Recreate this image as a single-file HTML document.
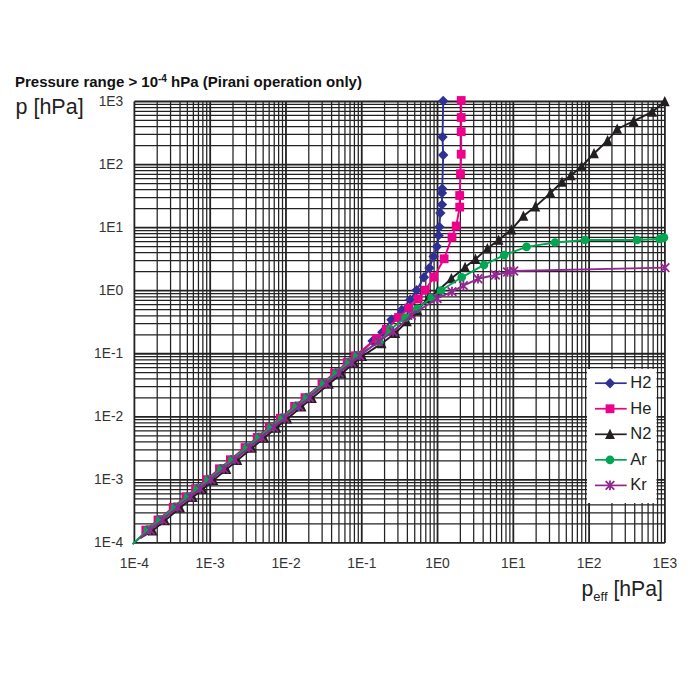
<!DOCTYPE html><html><head><meta charset="utf-8"><style>html,body{margin:0;padding:0;background:#fff;}svg{display:block;font-family:"Liberation Sans",sans-serif;}</style></head><body>
<svg width="700" height="700" viewBox="0 0 700 700">
<rect x="0" y="0" width="700" height="700" fill="#fff"/>
<g><line x1="157.21" y1="101.5" x2="157.21" y2="542.9" stroke="#222222" stroke-width="1.25"/><line x1="134.4" y1="523.92" x2="664.9" y2="523.92" stroke="#222222" stroke-width="1.25"/><line x1="170.56" y1="101.5" x2="170.56" y2="542.9" stroke="#222222" stroke-width="1.25"/><line x1="134.4" y1="512.81" x2="664.9" y2="512.81" stroke="#222222" stroke-width="1.25"/><line x1="180.03" y1="101.5" x2="180.03" y2="542.9" stroke="#222222" stroke-width="1.25"/><line x1="134.4" y1="504.94" x2="664.9" y2="504.94" stroke="#222222" stroke-width="1.25"/><line x1="187.37" y1="101.5" x2="187.37" y2="542.9" stroke="#222222" stroke-width="1.25"/><line x1="134.4" y1="498.82" x2="664.9" y2="498.82" stroke="#222222" stroke-width="1.25"/><line x1="193.37" y1="101.5" x2="193.37" y2="542.9" stroke="#222222" stroke-width="1.25"/><line x1="134.4" y1="493.83" x2="664.9" y2="493.83" stroke="#222222" stroke-width="1.25"/><line x1="198.45" y1="101.5" x2="198.45" y2="542.9" stroke="#222222" stroke-width="1.25"/><line x1="134.4" y1="489.61" x2="664.9" y2="489.61" stroke="#222222" stroke-width="1.25"/><line x1="202.84" y1="101.5" x2="202.84" y2="542.9" stroke="#222222" stroke-width="1.25"/><line x1="134.4" y1="485.95" x2="664.9" y2="485.95" stroke="#222222" stroke-width="1.25"/><line x1="206.72" y1="101.5" x2="206.72" y2="542.9" stroke="#222222" stroke-width="1.25"/><line x1="134.4" y1="482.73" x2="664.9" y2="482.73" stroke="#222222" stroke-width="1.25"/><line x1="233.00" y1="101.5" x2="233.00" y2="542.9" stroke="#222222" stroke-width="1.25"/><line x1="134.4" y1="460.86" x2="664.9" y2="460.86" stroke="#222222" stroke-width="1.25"/><line x1="246.34" y1="101.5" x2="246.34" y2="542.9" stroke="#222222" stroke-width="1.25"/><line x1="134.4" y1="449.76" x2="664.9" y2="449.76" stroke="#222222" stroke-width="1.25"/><line x1="255.81" y1="101.5" x2="255.81" y2="542.9" stroke="#222222" stroke-width="1.25"/><line x1="134.4" y1="441.88" x2="664.9" y2="441.88" stroke="#222222" stroke-width="1.25"/><line x1="263.16" y1="101.5" x2="263.16" y2="542.9" stroke="#222222" stroke-width="1.25"/><line x1="134.4" y1="435.77" x2="664.9" y2="435.77" stroke="#222222" stroke-width="1.25"/><line x1="269.16" y1="101.5" x2="269.16" y2="542.9" stroke="#222222" stroke-width="1.25"/><line x1="134.4" y1="430.77" x2="664.9" y2="430.77" stroke="#222222" stroke-width="1.25"/><line x1="274.23" y1="101.5" x2="274.23" y2="542.9" stroke="#222222" stroke-width="1.25"/><line x1="134.4" y1="426.55" x2="664.9" y2="426.55" stroke="#222222" stroke-width="1.25"/><line x1="278.63" y1="101.5" x2="278.63" y2="542.9" stroke="#222222" stroke-width="1.25"/><line x1="134.4" y1="422.90" x2="664.9" y2="422.90" stroke="#222222" stroke-width="1.25"/><line x1="282.50" y1="101.5" x2="282.50" y2="542.9" stroke="#222222" stroke-width="1.25"/><line x1="134.4" y1="419.67" x2="664.9" y2="419.67" stroke="#222222" stroke-width="1.25"/><line x1="308.79" y1="101.5" x2="308.79" y2="542.9" stroke="#222222" stroke-width="1.25"/><line x1="134.4" y1="397.80" x2="664.9" y2="397.80" stroke="#222222" stroke-width="1.25"/><line x1="322.13" y1="101.5" x2="322.13" y2="542.9" stroke="#222222" stroke-width="1.25"/><line x1="134.4" y1="386.70" x2="664.9" y2="386.70" stroke="#222222" stroke-width="1.25"/><line x1="331.60" y1="101.5" x2="331.60" y2="542.9" stroke="#222222" stroke-width="1.25"/><line x1="134.4" y1="378.82" x2="664.9" y2="378.82" stroke="#222222" stroke-width="1.25"/><line x1="338.94" y1="101.5" x2="338.94" y2="542.9" stroke="#222222" stroke-width="1.25"/><line x1="134.4" y1="372.71" x2="664.9" y2="372.71" stroke="#222222" stroke-width="1.25"/><line x1="344.94" y1="101.5" x2="344.94" y2="542.9" stroke="#222222" stroke-width="1.25"/><line x1="134.4" y1="367.72" x2="664.9" y2="367.72" stroke="#222222" stroke-width="1.25"/><line x1="350.02" y1="101.5" x2="350.02" y2="542.9" stroke="#222222" stroke-width="1.25"/><line x1="134.4" y1="363.50" x2="664.9" y2="363.50" stroke="#222222" stroke-width="1.25"/><line x1="354.41" y1="101.5" x2="354.41" y2="542.9" stroke="#222222" stroke-width="1.25"/><line x1="134.4" y1="359.84" x2="664.9" y2="359.84" stroke="#222222" stroke-width="1.25"/><line x1="358.29" y1="101.5" x2="358.29" y2="542.9" stroke="#222222" stroke-width="1.25"/><line x1="134.4" y1="356.61" x2="664.9" y2="356.61" stroke="#222222" stroke-width="1.25"/><line x1="384.57" y1="101.5" x2="384.57" y2="542.9" stroke="#222222" stroke-width="1.25"/><line x1="134.4" y1="334.75" x2="664.9" y2="334.75" stroke="#222222" stroke-width="1.25"/><line x1="397.92" y1="101.5" x2="397.92" y2="542.9" stroke="#222222" stroke-width="1.25"/><line x1="134.4" y1="323.64" x2="664.9" y2="323.64" stroke="#222222" stroke-width="1.25"/><line x1="407.38" y1="101.5" x2="407.38" y2="542.9" stroke="#222222" stroke-width="1.25"/><line x1="134.4" y1="315.76" x2="664.9" y2="315.76" stroke="#222222" stroke-width="1.25"/><line x1="414.73" y1="101.5" x2="414.73" y2="542.9" stroke="#222222" stroke-width="1.25"/><line x1="134.4" y1="309.65" x2="664.9" y2="309.65" stroke="#222222" stroke-width="1.25"/><line x1="420.73" y1="101.5" x2="420.73" y2="542.9" stroke="#222222" stroke-width="1.25"/><line x1="134.4" y1="304.66" x2="664.9" y2="304.66" stroke="#222222" stroke-width="1.25"/><line x1="425.80" y1="101.5" x2="425.80" y2="542.9" stroke="#222222" stroke-width="1.25"/><line x1="134.4" y1="300.44" x2="664.9" y2="300.44" stroke="#222222" stroke-width="1.25"/><line x1="430.20" y1="101.5" x2="430.20" y2="542.9" stroke="#222222" stroke-width="1.25"/><line x1="134.4" y1="296.78" x2="664.9" y2="296.78" stroke="#222222" stroke-width="1.25"/><line x1="434.08" y1="101.5" x2="434.08" y2="542.9" stroke="#222222" stroke-width="1.25"/><line x1="134.4" y1="293.56" x2="664.9" y2="293.56" stroke="#222222" stroke-width="1.25"/><line x1="460.36" y1="101.5" x2="460.36" y2="542.9" stroke="#222222" stroke-width="1.25"/><line x1="134.4" y1="271.69" x2="664.9" y2="271.69" stroke="#222222" stroke-width="1.25"/><line x1="473.70" y1="101.5" x2="473.70" y2="542.9" stroke="#222222" stroke-width="1.25"/><line x1="134.4" y1="260.59" x2="664.9" y2="260.59" stroke="#222222" stroke-width="1.25"/><line x1="483.17" y1="101.5" x2="483.17" y2="542.9" stroke="#222222" stroke-width="1.25"/><line x1="134.4" y1="252.71" x2="664.9" y2="252.71" stroke="#222222" stroke-width="1.25"/><line x1="490.51" y1="101.5" x2="490.51" y2="542.9" stroke="#222222" stroke-width="1.25"/><line x1="134.4" y1="246.60" x2="664.9" y2="246.60" stroke="#222222" stroke-width="1.25"/><line x1="496.52" y1="101.5" x2="496.52" y2="542.9" stroke="#222222" stroke-width="1.25"/><line x1="134.4" y1="241.60" x2="664.9" y2="241.60" stroke="#222222" stroke-width="1.25"/><line x1="501.59" y1="101.5" x2="501.59" y2="542.9" stroke="#222222" stroke-width="1.25"/><line x1="134.4" y1="237.38" x2="664.9" y2="237.38" stroke="#222222" stroke-width="1.25"/><line x1="505.98" y1="101.5" x2="505.98" y2="542.9" stroke="#222222" stroke-width="1.25"/><line x1="134.4" y1="233.73" x2="664.9" y2="233.73" stroke="#222222" stroke-width="1.25"/><line x1="509.86" y1="101.5" x2="509.86" y2="542.9" stroke="#222222" stroke-width="1.25"/><line x1="134.4" y1="230.50" x2="664.9" y2="230.50" stroke="#222222" stroke-width="1.25"/><line x1="536.14" y1="101.5" x2="536.14" y2="542.9" stroke="#222222" stroke-width="1.25"/><line x1="134.4" y1="208.63" x2="664.9" y2="208.63" stroke="#222222" stroke-width="1.25"/><line x1="549.49" y1="101.5" x2="549.49" y2="542.9" stroke="#222222" stroke-width="1.25"/><line x1="134.4" y1="197.53" x2="664.9" y2="197.53" stroke="#222222" stroke-width="1.25"/><line x1="558.96" y1="101.5" x2="558.96" y2="542.9" stroke="#222222" stroke-width="1.25"/><line x1="134.4" y1="189.65" x2="664.9" y2="189.65" stroke="#222222" stroke-width="1.25"/><line x1="566.30" y1="101.5" x2="566.30" y2="542.9" stroke="#222222" stroke-width="1.25"/><line x1="134.4" y1="183.54" x2="664.9" y2="183.54" stroke="#222222" stroke-width="1.25"/><line x1="572.30" y1="101.5" x2="572.30" y2="542.9" stroke="#222222" stroke-width="1.25"/><line x1="134.4" y1="178.55" x2="664.9" y2="178.55" stroke="#222222" stroke-width="1.25"/><line x1="577.37" y1="101.5" x2="577.37" y2="542.9" stroke="#222222" stroke-width="1.25"/><line x1="134.4" y1="174.32" x2="664.9" y2="174.32" stroke="#222222" stroke-width="1.25"/><line x1="581.77" y1="101.5" x2="581.77" y2="542.9" stroke="#222222" stroke-width="1.25"/><line x1="134.4" y1="170.67" x2="664.9" y2="170.67" stroke="#222222" stroke-width="1.25"/><line x1="585.65" y1="101.5" x2="585.65" y2="542.9" stroke="#222222" stroke-width="1.25"/><line x1="134.4" y1="167.44" x2="664.9" y2="167.44" stroke="#222222" stroke-width="1.25"/><line x1="611.93" y1="101.5" x2="611.93" y2="542.9" stroke="#222222" stroke-width="1.25"/><line x1="134.4" y1="145.58" x2="664.9" y2="145.58" stroke="#222222" stroke-width="1.25"/><line x1="625.27" y1="101.5" x2="625.27" y2="542.9" stroke="#222222" stroke-width="1.25"/><line x1="134.4" y1="134.47" x2="664.9" y2="134.47" stroke="#222222" stroke-width="1.25"/><line x1="634.74" y1="101.5" x2="634.74" y2="542.9" stroke="#222222" stroke-width="1.25"/><line x1="134.4" y1="126.59" x2="664.9" y2="126.59" stroke="#222222" stroke-width="1.25"/><line x1="642.09" y1="101.5" x2="642.09" y2="542.9" stroke="#222222" stroke-width="1.25"/><line x1="134.4" y1="120.48" x2="664.9" y2="120.48" stroke="#222222" stroke-width="1.25"/><line x1="648.09" y1="101.5" x2="648.09" y2="542.9" stroke="#222222" stroke-width="1.25"/><line x1="134.4" y1="115.49" x2="664.9" y2="115.49" stroke="#222222" stroke-width="1.25"/><line x1="653.16" y1="101.5" x2="653.16" y2="542.9" stroke="#222222" stroke-width="1.25"/><line x1="134.4" y1="111.27" x2="664.9" y2="111.27" stroke="#222222" stroke-width="1.25"/><line x1="657.56" y1="101.5" x2="657.56" y2="542.9" stroke="#222222" stroke-width="1.25"/><line x1="134.4" y1="107.61" x2="664.9" y2="107.61" stroke="#222222" stroke-width="1.25"/><line x1="661.43" y1="101.5" x2="661.43" y2="542.9" stroke="#222222" stroke-width="1.25"/><line x1="134.4" y1="104.39" x2="664.9" y2="104.39" stroke="#222222" stroke-width="1.25"/><line x1="134.40" y1="101.5" x2="134.40" y2="542.9" stroke="#222222" stroke-width="1.8"/><line x1="134.4" y1="542.90" x2="664.9" y2="542.90" stroke="#222222" stroke-width="1.8"/><line x1="210.19" y1="101.5" x2="210.19" y2="542.9" stroke="#222222" stroke-width="1.8"/><line x1="134.4" y1="479.84" x2="664.9" y2="479.84" stroke="#222222" stroke-width="1.8"/><line x1="285.97" y1="101.5" x2="285.97" y2="542.9" stroke="#222222" stroke-width="1.8"/><line x1="134.4" y1="416.79" x2="664.9" y2="416.79" stroke="#222222" stroke-width="1.8"/><line x1="361.76" y1="101.5" x2="361.76" y2="542.9" stroke="#222222" stroke-width="1.8"/><line x1="134.4" y1="353.73" x2="664.9" y2="353.73" stroke="#222222" stroke-width="1.8"/><line x1="437.54" y1="101.5" x2="437.54" y2="542.9" stroke="#222222" stroke-width="1.8"/><line x1="134.4" y1="290.67" x2="664.9" y2="290.67" stroke="#222222" stroke-width="1.8"/><line x1="513.33" y1="101.5" x2="513.33" y2="542.9" stroke="#222222" stroke-width="1.8"/><line x1="134.4" y1="227.61" x2="664.9" y2="227.61" stroke="#222222" stroke-width="1.8"/><line x1="589.11" y1="101.5" x2="589.11" y2="542.9" stroke="#222222" stroke-width="1.8"/><line x1="134.4" y1="164.56" x2="664.9" y2="164.56" stroke="#222222" stroke-width="1.8"/><line x1="664.90" y1="101.5" x2="664.90" y2="542.9" stroke="#222222" stroke-width="1.8"/><line x1="134.4" y1="101.50" x2="664.9" y2="101.50" stroke="#222222" stroke-width="1.8"/></g>
<path d="M132.60 544.10L148.30 530.59L160.50 520.44L175.70 507.79L188.40 497.22L198.10 489.15L208.90 480.16L221.99 469.28L232.89 460.21L247.49 448.06L259.69 437.91L271.79 427.84L282.79 418.69L297.07 406.80L307.47 398.15L324.47 384.00L337.07 373.52L349.67 363.04L357.77 356.30L372.60 340.90L382.30 332.30L391.40 319.70L401.70 310.00L410.30 299.80L416.60 290.20L424.00 277.30L429.40 268.00L433.60 256.50L437.00 246.60L438.60 235.40L439.40 226.90L440.30 213.00L442.00 204.60L442.00 193.00L442.20 188.70L443.20 155.00L442.50 137.00L443.20 101.00" stroke="#2e3192" stroke-width="1.9" fill="none" stroke-linejoin="round"/>
<g><path d="M148.30 525.39L153.50 530.59L148.30 535.79L143.10 530.59Z" fill="#2e3192"/><path d="M160.50 515.24L165.70 520.44L160.50 525.64L155.30 520.44Z" fill="#2e3192"/><path d="M175.70 502.59L180.90 507.79L175.70 512.99L170.50 507.79Z" fill="#2e3192"/><path d="M188.40 492.02L193.60 497.22L188.40 502.42L183.20 497.22Z" fill="#2e3192"/><path d="M198.10 483.95L203.30 489.15L198.10 494.35L192.90 489.15Z" fill="#2e3192"/><path d="M208.90 474.96L214.10 480.16L208.90 485.36L203.70 480.16Z" fill="#2e3192"/><path d="M221.99 464.08L227.19 469.28L221.99 474.48L216.79 469.28Z" fill="#2e3192"/><path d="M232.89 455.01L238.09 460.21L232.89 465.41L227.69 460.21Z" fill="#2e3192"/><path d="M247.49 442.86L252.69 448.06L247.49 453.26L242.29 448.06Z" fill="#2e3192"/><path d="M259.69 432.71L264.89 437.91L259.69 443.11L254.49 437.91Z" fill="#2e3192"/><path d="M271.79 422.64L276.99 427.84L271.79 433.04L266.59 427.84Z" fill="#2e3192"/><path d="M282.79 413.49L287.99 418.69L282.79 423.89L277.59 418.69Z" fill="#2e3192"/><path d="M297.07 401.60L302.27 406.80L297.07 412.00L291.87 406.80Z" fill="#2e3192"/><path d="M307.47 392.95L312.67 398.15L307.47 403.35L302.27 398.15Z" fill="#2e3192"/><path d="M324.47 378.80L329.67 384.00L324.47 389.20L319.27 384.00Z" fill="#2e3192"/><path d="M337.07 368.32L342.27 373.52L337.07 378.72L331.87 373.52Z" fill="#2e3192"/><path d="M349.67 357.84L354.87 363.04L349.67 368.24L344.47 363.04Z" fill="#2e3192"/><path d="M357.77 351.10L362.97 356.30L357.77 361.50L352.57 356.30Z" fill="#2e3192"/><path d="M372.60 335.70L377.80 340.90L372.60 346.10L367.40 340.90Z" fill="#2e3192"/><path d="M382.30 327.10L387.50 332.30L382.30 337.50L377.10 332.30Z" fill="#2e3192"/><path d="M391.40 314.50L396.60 319.70L391.40 324.90L386.20 319.70Z" fill="#2e3192"/><path d="M401.70 304.80L406.90 310.00L401.70 315.20L396.50 310.00Z" fill="#2e3192"/><path d="M410.30 294.60L415.50 299.80L410.30 305.00L405.10 299.80Z" fill="#2e3192"/><path d="M416.60 285.00L421.80 290.20L416.60 295.40L411.40 290.20Z" fill="#2e3192"/><path d="M424.00 272.10L429.20 277.30L424.00 282.50L418.80 277.30Z" fill="#2e3192"/><path d="M429.40 262.80L434.60 268.00L429.40 273.20L424.20 268.00Z" fill="#2e3192"/><path d="M433.60 251.30L438.80 256.50L433.60 261.70L428.40 256.50Z" fill="#2e3192"/><path d="M437.00 241.40L442.20 246.60L437.00 251.80L431.80 246.60Z" fill="#2e3192"/><path d="M438.60 230.20L443.80 235.40L438.60 240.60L433.40 235.40Z" fill="#2e3192"/><path d="M439.40 221.70L444.60 226.90L439.40 232.10L434.20 226.90Z" fill="#2e3192"/><path d="M440.30 207.80L445.50 213.00L440.30 218.20L435.10 213.00Z" fill="#2e3192"/><path d="M442.00 199.40L447.20 204.60L442.00 209.80L436.80 204.60Z" fill="#2e3192"/><path d="M442.00 187.80L447.20 193.00L442.00 198.20L436.80 193.00Z" fill="#2e3192"/><path d="M442.20 183.50L447.40 188.70L442.20 193.90L437.00 188.70Z" fill="#2e3192"/><path d="M443.20 149.80L448.40 155.00L443.20 160.20L438.00 155.00Z" fill="#2e3192"/><path d="M442.50 131.80L447.70 137.00L442.50 142.20L437.30 137.00Z" fill="#2e3192"/><path d="M443.20 95.80L448.40 101.00L443.20 106.20L438.00 101.00Z" fill="#2e3192"/></g>
<path d="M140.40 537.90L145.80 530.09L158.00 519.94L173.20 507.29L185.90 496.72L195.60 488.65L206.40 479.66L219.49 468.78L230.39 459.71L244.99 447.56L257.19 437.41L269.29 427.34L280.29 418.19L294.57 406.30L304.97 397.65L321.97 383.50L334.57 373.02L347.17 362.54L355.27 355.80L376.60 338.60L386.30 329.40L398.50 317.50L408.80 308.00L418.20 299.00L425.20 290.20L434.00 277.00L444.10 258.80L452.00 237.10L456.20 226.00L459.70 207.10L459.70 195.50L460.50 173.70L461.20 154.20L461.20 131.70L461.20 117.50L461.20 100.50" stroke="#ec008c" stroke-width="1.9" fill="none" stroke-linejoin="round"/>
<g><rect x="141.40" y="525.69" width="8.8" height="8.8" fill="#ec008c"/><rect x="153.60" y="515.54" width="8.8" height="8.8" fill="#ec008c"/><rect x="168.80" y="502.89" width="8.8" height="8.8" fill="#ec008c"/><rect x="181.50" y="492.32" width="8.8" height="8.8" fill="#ec008c"/><rect x="191.20" y="484.25" width="8.8" height="8.8" fill="#ec008c"/><rect x="202.00" y="475.26" width="8.8" height="8.8" fill="#ec008c"/><rect x="215.09" y="464.38" width="8.8" height="8.8" fill="#ec008c"/><rect x="225.99" y="455.31" width="8.8" height="8.8" fill="#ec008c"/><rect x="240.59" y="443.16" width="8.8" height="8.8" fill="#ec008c"/><rect x="252.79" y="433.01" width="8.8" height="8.8" fill="#ec008c"/><rect x="264.89" y="422.94" width="8.8" height="8.8" fill="#ec008c"/><rect x="275.89" y="413.79" width="8.8" height="8.8" fill="#ec008c"/><rect x="290.17" y="401.90" width="8.8" height="8.8" fill="#ec008c"/><rect x="300.57" y="393.25" width="8.8" height="8.8" fill="#ec008c"/><rect x="317.57" y="379.10" width="8.8" height="8.8" fill="#ec008c"/><rect x="330.17" y="368.62" width="8.8" height="8.8" fill="#ec008c"/><rect x="342.77" y="358.14" width="8.8" height="8.8" fill="#ec008c"/><rect x="350.87" y="351.40" width="8.8" height="8.8" fill="#ec008c"/><rect x="372.20" y="334.20" width="8.8" height="8.8" fill="#ec008c"/><rect x="381.90" y="325.00" width="8.8" height="8.8" fill="#ec008c"/><rect x="394.10" y="313.10" width="8.8" height="8.8" fill="#ec008c"/><rect x="404.40" y="303.60" width="8.8" height="8.8" fill="#ec008c"/><rect x="413.80" y="294.60" width="8.8" height="8.8" fill="#ec008c"/><rect x="420.80" y="285.80" width="8.8" height="8.8" fill="#ec008c"/><rect x="429.60" y="272.60" width="8.8" height="8.8" fill="#ec008c"/><rect x="439.70" y="254.40" width="8.8" height="8.8" fill="#ec008c"/><rect x="447.60" y="232.70" width="8.8" height="8.8" fill="#ec008c"/><rect x="451.80" y="221.60" width="8.8" height="8.8" fill="#ec008c"/><rect x="455.30" y="202.70" width="8.8" height="8.8" fill="#ec008c"/><rect x="455.30" y="191.10" width="8.8" height="8.8" fill="#ec008c"/><rect x="456.10" y="169.30" width="8.8" height="8.8" fill="#ec008c"/><rect x="456.80" y="149.80" width="8.8" height="8.8" fill="#ec008c"/><rect x="456.80" y="127.30" width="8.8" height="8.8" fill="#ec008c"/><rect x="456.80" y="113.10" width="8.8" height="8.8" fill="#ec008c"/><rect x="456.80" y="96.10" width="8.8" height="8.8" fill="#ec008c"/></g>
<path d="M140.40 537.90L152.80 530.59L165.00 520.44L180.20 507.79L192.90 497.22L202.60 489.15L213.40 480.16L226.49 469.28L237.39 460.21L251.99 448.06L264.19 437.91L276.29 427.84L287.29 418.69L301.57 406.80L311.97 398.15L328.97 384.00L341.57 373.52L354.17 363.04L362.27 356.30L381.70 343.40L395.40 333.10L406.90 321.50L417.50 310.70L428.00 298.40L437.70 291.00L451.40 278.50L465.10 267.20L475.50 259.10L487.40 248.60L498.60 240.00L511.40 229.70L523.40 216.00L535.40 206.60L550.50 193.00L562.00 182.00L570.80 175.40L581.60 166.50L594.00 153.50L607.60 140.50L617.20 129.00L633.60 121.20L652.10 111.90L664.80 101.50" stroke="#231f20" stroke-width="1.9" fill="none" stroke-linejoin="round"/>
<g><path d="M152.80 525.09L157.70 535.39L147.90 535.39Z" fill="#231f20"/><path d="M165.00 514.94L169.90 525.24L160.10 525.24Z" fill="#231f20"/><path d="M180.20 502.29L185.10 512.59L175.30 512.59Z" fill="#231f20"/><path d="M192.90 491.72L197.80 502.02L188.00 502.02Z" fill="#231f20"/><path d="M202.60 483.65L207.50 493.95L197.70 493.95Z" fill="#231f20"/><path d="M213.40 474.66L218.30 484.96L208.50 484.96Z" fill="#231f20"/><path d="M226.49 463.78L231.39 474.08L221.59 474.08Z" fill="#231f20"/><path d="M237.39 454.71L242.29 465.01L232.49 465.01Z" fill="#231f20"/><path d="M251.99 442.56L256.89 452.86L247.09 452.86Z" fill="#231f20"/><path d="M264.19 432.41L269.09 442.71L259.29 442.71Z" fill="#231f20"/><path d="M276.29 422.34L281.19 432.64L271.39 432.64Z" fill="#231f20"/><path d="M287.29 413.19L292.19 423.49L282.39 423.49Z" fill="#231f20"/><path d="M301.57 401.30L306.47 411.60L296.67 411.60Z" fill="#231f20"/><path d="M311.97 392.65L316.87 402.95L307.07 402.95Z" fill="#231f20"/><path d="M328.97 378.50L333.87 388.80L324.07 388.80Z" fill="#231f20"/><path d="M341.57 368.02L346.47 378.32L336.67 378.32Z" fill="#231f20"/><path d="M354.17 357.54L359.07 367.84L349.27 367.84Z" fill="#231f20"/><path d="M362.27 350.80L367.17 361.10L357.37 361.10Z" fill="#231f20"/><path d="M381.70 337.90L386.60 348.20L376.80 348.20Z" fill="#231f20"/><path d="M395.40 327.60L400.30 337.90L390.50 337.90Z" fill="#231f20"/><path d="M406.90 316.00L411.80 326.30L402.00 326.30Z" fill="#231f20"/><path d="M417.50 305.20L422.40 315.50L412.60 315.50Z" fill="#231f20"/><path d="M428.00 292.90L432.90 303.20L423.10 303.20Z" fill="#231f20"/><path d="M437.70 285.50L442.60 295.80L432.80 295.80Z" fill="#231f20"/><path d="M451.40 273.00L456.30 283.30L446.50 283.30Z" fill="#231f20"/><path d="M465.10 261.70L470.00 272.00L460.20 272.00Z" fill="#231f20"/><path d="M475.50 253.60L480.40 263.90L470.60 263.90Z" fill="#231f20"/><path d="M487.40 243.10L492.30 253.40L482.50 253.40Z" fill="#231f20"/><path d="M498.60 234.50L503.50 244.80L493.70 244.80Z" fill="#231f20"/><path d="M511.40 224.20L516.30 234.50L506.50 234.50Z" fill="#231f20"/><path d="M523.40 210.50L528.30 220.80L518.50 220.80Z" fill="#231f20"/><path d="M535.40 201.10L540.30 211.40L530.50 211.40Z" fill="#231f20"/><path d="M550.50 187.50L555.40 197.80L545.60 197.80Z" fill="#231f20"/><path d="M562.00 176.50L566.90 186.80L557.10 186.80Z" fill="#231f20"/><path d="M570.80 169.90L575.70 180.20L565.90 180.20Z" fill="#231f20"/><path d="M581.60 161.00L586.50 171.30L576.70 171.30Z" fill="#231f20"/><path d="M594.00 148.00L598.90 158.30L589.10 158.30Z" fill="#231f20"/><path d="M607.60 135.00L612.50 145.30L602.70 145.30Z" fill="#231f20"/><path d="M617.20 123.50L622.10 133.80L612.30 133.80Z" fill="#231f20"/><path d="M633.60 115.70L638.50 126.00L628.70 126.00Z" fill="#231f20"/><path d="M652.10 106.40L657.00 116.70L647.20 116.70Z" fill="#231f20"/><path d="M664.80 96.00L669.70 106.30L659.90 106.30Z" fill="#231f20"/></g>
<path d="M132.60 544.10L147.80 529.59L160.00 519.44L175.20 506.79L187.90 496.22L197.60 488.15L208.40 479.16L221.49 468.28L232.39 459.21L246.99 447.06L259.19 436.91L271.29 426.84L282.29 417.69L296.57 405.80L306.97 397.15L323.97 383.00L336.57 372.52L349.17 362.04L357.27 355.30L379.40 342.00L390.30 329.40L405.40 317.60L417.10 308.80L431.60 297.50L441.10 290.50L461.70 277.30L484.00 264.90L504.20 255.10L526.50 246.90L555.00 242.50L585.00 240.00L637.00 240.00L659.60 239.00L664.00 237.60" stroke="#00a651" stroke-width="1.9" fill="none" stroke-linejoin="round"/>
<g><circle cx="147.80" cy="529.59" r="4.3" fill="#00a651"/><circle cx="160.00" cy="519.44" r="4.3" fill="#00a651"/><circle cx="175.20" cy="506.79" r="4.3" fill="#00a651"/><circle cx="187.90" cy="496.22" r="4.3" fill="#00a651"/><circle cx="197.60" cy="488.15" r="4.3" fill="#00a651"/><circle cx="208.40" cy="479.16" r="4.3" fill="#00a651"/><circle cx="221.49" cy="468.28" r="4.3" fill="#00a651"/><circle cx="232.39" cy="459.21" r="4.3" fill="#00a651"/><circle cx="246.99" cy="447.06" r="4.3" fill="#00a651"/><circle cx="259.19" cy="436.91" r="4.3" fill="#00a651"/><circle cx="271.29" cy="426.84" r="4.3" fill="#00a651"/><circle cx="282.29" cy="417.69" r="4.3" fill="#00a651"/><circle cx="296.57" cy="405.80" r="4.3" fill="#00a651"/><circle cx="306.97" cy="397.15" r="4.3" fill="#00a651"/><circle cx="323.97" cy="383.00" r="4.3" fill="#00a651"/><circle cx="336.57" cy="372.52" r="4.3" fill="#00a651"/><circle cx="349.17" cy="362.04" r="4.3" fill="#00a651"/><circle cx="357.27" cy="355.30" r="4.3" fill="#00a651"/><circle cx="379.40" cy="342.00" r="4.3" fill="#00a651"/><circle cx="390.30" cy="329.40" r="4.3" fill="#00a651"/><circle cx="405.40" cy="317.60" r="4.3" fill="#00a651"/><circle cx="417.10" cy="308.80" r="4.3" fill="#00a651"/><circle cx="431.60" cy="297.50" r="4.3" fill="#00a651"/><circle cx="441.10" cy="290.50" r="4.3" fill="#00a651"/><circle cx="461.70" cy="277.30" r="4.3" fill="#00a651"/><circle cx="484.00" cy="264.90" r="4.3" fill="#00a651"/><circle cx="504.20" cy="255.10" r="4.3" fill="#00a651"/><circle cx="526.50" cy="246.90" r="4.3" fill="#00a651"/><circle cx="555.00" cy="242.50" r="4.3" fill="#00a651"/><circle cx="585.00" cy="240.00" r="4.3" fill="#00a651"/><circle cx="637.00" cy="240.00" r="4.3" fill="#00a651"/><circle cx="659.60" cy="239.00" r="4.3" fill="#00a651"/><circle cx="664.00" cy="237.60" r="4.3" fill="#00a651"/></g>
<path d="M140.40 537.90L150.30 530.09L162.50 519.94L177.70 507.29L190.40 496.72L200.10 488.65L210.90 479.66L223.99 468.78L234.89 459.71L249.49 447.56L261.69 437.41L273.79 427.34L284.79 418.19L299.07 406.30L309.47 397.65L326.47 383.50L339.07 373.02L351.67 362.54L359.77 355.80L378.50 341.50L393.10 331.70L411.40 315.30L437.10 298.50L452.00 291.60L463.40 285.60L478.00 278.80L495.40 275.00L507.50 272.00L513.70 271.00L665.00 267.60" stroke="#92278f" stroke-width="1.9" fill="none" stroke-linejoin="round"/>
<g><path d="M146.00 525.79L154.60 534.39M154.60 525.79L146.00 534.39M150.30 525.29L150.30 534.89" stroke="#92278f" stroke-width="1.8" fill="none"/><path d="M158.20 515.64L166.80 524.24M166.80 515.64L158.20 524.24M162.50 515.14L162.50 524.74" stroke="#92278f" stroke-width="1.8" fill="none"/><path d="M173.40 502.99L182.00 511.59M182.00 502.99L173.40 511.59M177.70 502.49L177.70 512.09" stroke="#92278f" stroke-width="1.8" fill="none"/><path d="M186.10 492.42L194.70 501.02M194.70 492.42L186.10 501.02M190.40 491.92L190.40 501.52" stroke="#92278f" stroke-width="1.8" fill="none"/><path d="M195.80 484.35L204.40 492.95M204.40 484.35L195.80 492.95M200.10 483.85L200.10 493.45" stroke="#92278f" stroke-width="1.8" fill="none"/><path d="M206.60 475.36L215.20 483.96M215.20 475.36L206.60 483.96M210.90 474.86L210.90 484.46" stroke="#92278f" stroke-width="1.8" fill="none"/><path d="M219.69 464.48L228.29 473.08M228.29 464.48L219.69 473.08M223.99 463.98L223.99 473.58" stroke="#92278f" stroke-width="1.8" fill="none"/><path d="M230.59 455.41L239.19 464.01M239.19 455.41L230.59 464.01M234.89 454.91L234.89 464.51" stroke="#92278f" stroke-width="1.8" fill="none"/><path d="M245.19 443.26L253.79 451.86M253.79 443.26L245.19 451.86M249.49 442.76L249.49 452.36" stroke="#92278f" stroke-width="1.8" fill="none"/><path d="M257.39 433.11L265.99 441.71M265.99 433.11L257.39 441.71M261.69 432.61L261.69 442.21" stroke="#92278f" stroke-width="1.8" fill="none"/><path d="M269.49 423.04L278.09 431.64M278.09 423.04L269.49 431.64M273.79 422.54L273.79 432.14" stroke="#92278f" stroke-width="1.8" fill="none"/><path d="M280.49 413.89L289.09 422.49M289.09 413.89L280.49 422.49M284.79 413.39L284.79 422.99" stroke="#92278f" stroke-width="1.8" fill="none"/><path d="M294.77 402.00L303.37 410.60M303.37 402.00L294.77 410.60M299.07 401.50L299.07 411.10" stroke="#92278f" stroke-width="1.8" fill="none"/><path d="M305.17 393.35L313.77 401.95M313.77 393.35L305.17 401.95M309.47 392.85L309.47 402.45" stroke="#92278f" stroke-width="1.8" fill="none"/><path d="M322.17 379.20L330.77 387.80M330.77 379.20L322.17 387.80M326.47 378.70L326.47 388.30" stroke="#92278f" stroke-width="1.8" fill="none"/><path d="M334.77 368.72L343.37 377.32M343.37 368.72L334.77 377.32M339.07 368.22L339.07 377.82" stroke="#92278f" stroke-width="1.8" fill="none"/><path d="M347.37 358.24L355.97 366.84M355.97 358.24L347.37 366.84M351.67 357.74L351.67 367.34" stroke="#92278f" stroke-width="1.8" fill="none"/><path d="M355.47 351.50L364.07 360.10M364.07 351.50L355.47 360.10M359.77 351.00L359.77 360.60" stroke="#92278f" stroke-width="1.8" fill="none"/><path d="M374.20 337.20L382.80 345.80M382.80 337.20L374.20 345.80M378.50 336.70L378.50 346.30" stroke="#92278f" stroke-width="1.8" fill="none"/><path d="M388.80 327.40L397.40 336.00M397.40 327.40L388.80 336.00M393.10 326.90L393.10 336.50" stroke="#92278f" stroke-width="1.8" fill="none"/><path d="M407.10 311.00L415.70 319.60M415.70 311.00L407.10 319.60M411.40 310.50L411.40 320.10" stroke="#92278f" stroke-width="1.8" fill="none"/><path d="M432.80 294.20L441.40 302.80M441.40 294.20L432.80 302.80M437.10 293.70L437.10 303.30" stroke="#92278f" stroke-width="1.8" fill="none"/><path d="M447.70 287.30L456.30 295.90M456.30 287.30L447.70 295.90M452.00 286.80L452.00 296.40" stroke="#92278f" stroke-width="1.8" fill="none"/><path d="M459.10 281.30L467.70 289.90M467.70 281.30L459.10 289.90M463.40 280.80L463.40 290.40" stroke="#92278f" stroke-width="1.8" fill="none"/><path d="M473.70 274.50L482.30 283.10M482.30 274.50L473.70 283.10M478.00 274.00L478.00 283.60" stroke="#92278f" stroke-width="1.8" fill="none"/><path d="M491.10 270.70L499.70 279.30M499.70 270.70L491.10 279.30M495.40 270.20L495.40 279.80" stroke="#92278f" stroke-width="1.8" fill="none"/><path d="M503.20 267.70L511.80 276.30M511.80 267.70L503.20 276.30M507.50 267.20L507.50 276.80" stroke="#92278f" stroke-width="1.8" fill="none"/><path d="M509.40 266.70L518.00 275.30M518.00 266.70L509.40 275.30M513.70 266.20L513.70 275.80" stroke="#92278f" stroke-width="1.8" fill="none"/><path d="M660.70 263.30L669.30 271.90M669.30 263.30L660.70 271.90M665.00 262.80L665.00 272.40" stroke="#92278f" stroke-width="1.8" fill="none"/></g>
<rect x="587" y="369" width="69.5" height="134" fill="#fff"/>
<line x1="595" y1="383.2" x2="626.7" y2="383.2" stroke="#2e3192" stroke-width="1.7"/>
<path d="M610.00 378.00L615.20 383.20L610.00 388.40L604.80 383.20Z" fill="#2e3192"/>
<text x="630.3" y="388.1" font-size="16.5" fill="#231f20">H2</text>
<line x1="595" y1="408.75" x2="626.7" y2="408.75" stroke="#ec008c" stroke-width="1.7"/>
<rect x="605.60" y="404.35" width="8.8" height="8.8" fill="#ec008c"/>
<text x="630.3" y="413.6" font-size="16.5" fill="#231f20">He</text>
<line x1="595" y1="434.3" x2="626.7" y2="434.3" stroke="#231f20" stroke-width="1.7"/>
<path d="M610.00 428.80L614.90 439.10L605.10 439.10Z" fill="#231f20"/>
<text x="630.3" y="439.2" font-size="16.5" fill="#231f20">N2</text>
<line x1="595" y1="459.85" x2="626.7" y2="459.85" stroke="#00a651" stroke-width="1.7"/>
<circle cx="610.00" cy="459.85" r="4.3" fill="#00a651"/>
<text x="630.3" y="464.8" font-size="16.5" fill="#231f20">Ar</text>
<line x1="595" y1="485.4" x2="626.7" y2="485.4" stroke="#92278f" stroke-width="1.7"/>
<path d="M605.70 481.10L614.30 489.70M614.30 481.10L605.70 489.70M610.00 480.60L610.00 490.20" stroke="#92278f" stroke-width="1.8" fill="none"/>
<text x="630.3" y="490.3" font-size="16.5" fill="#231f20">Kr</text>
<text x="123.2" y="547.2" font-size="13.8" text-anchor="end" fill="#333333">1E-4</text>
<text x="134.4" y="568" font-size="13.8" text-anchor="middle" fill="#333333">1E-4</text>
<text x="123.2" y="484.1" font-size="13.8" text-anchor="end" fill="#333333">1E-3</text>
<text x="210.2" y="568" font-size="13.8" text-anchor="middle" fill="#333333">1E-3</text>
<text x="123.2" y="421.1" font-size="13.8" text-anchor="end" fill="#333333">1E-2</text>
<text x="286.0" y="568" font-size="13.8" text-anchor="middle" fill="#333333">1E-2</text>
<text x="123.2" y="358.0" font-size="13.8" text-anchor="end" fill="#333333">1E-1</text>
<text x="361.8" y="568" font-size="13.8" text-anchor="middle" fill="#333333">1E-1</text>
<text x="123.2" y="295.0" font-size="13.8" text-anchor="end" fill="#333333">1E0</text>
<text x="437.5" y="568" font-size="13.8" text-anchor="middle" fill="#333333">1E0</text>
<text x="123.2" y="231.9" font-size="13.8" text-anchor="end" fill="#333333">1E1</text>
<text x="513.3" y="568" font-size="13.8" text-anchor="middle" fill="#333333">1E1</text>
<text x="123.2" y="168.9" font-size="13.8" text-anchor="end" fill="#333333">1E2</text>
<text x="589.1" y="568" font-size="13.8" text-anchor="middle" fill="#333333">1E2</text>
<text x="123.2" y="105.8" font-size="13.8" text-anchor="end" fill="#333333">1E3</text>
<text x="664.9" y="568" font-size="13.8" text-anchor="middle" fill="#333333">1E3</text>
<text x="15" y="87" font-size="15" font-weight="bold" fill="#111">Pressure range &gt; 10<tspan dy="-5" font-size="10">-4</tspan><tspan dy="5"> hPa (Pirani operation only)</tspan></text>
<text x="15.5" y="114" font-size="21.5" fill="#222">p [hPa]</text>
<text x="581.5" y="596" font-size="21.2" fill="#222">p<tspan dy="5" font-size="13">eff</tspan><tspan dy="-5"> [hPa]</tspan></text>
</svg></body></html>
